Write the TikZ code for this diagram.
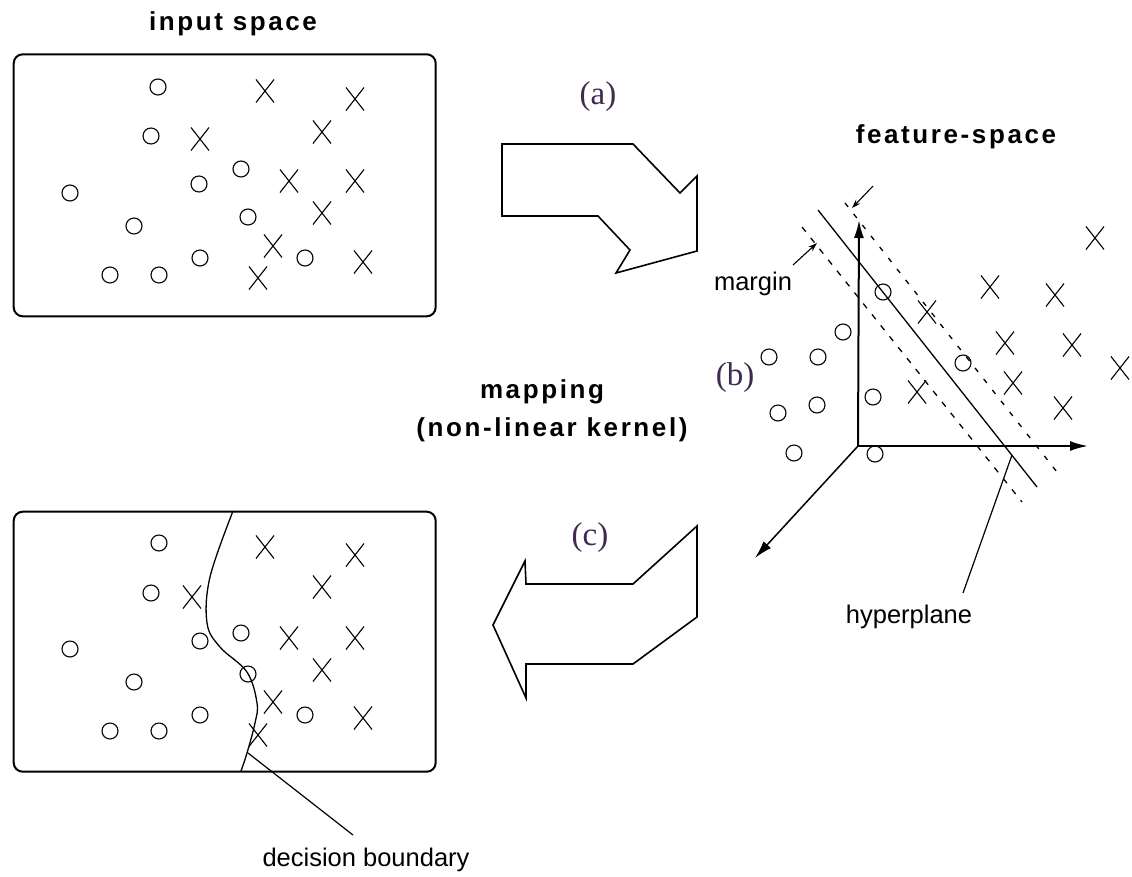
\documentclass[tikz,border=0pt]{standalone}
\usepackage{fontspec}
\setmainfont{Liberation Serif}
\newfontfamily\labelfont{Liberation Sans}
\newfontfamily\titlefont{Liberation Sans}[LetterSpace=10]
\usetikzlibrary{shapes.misc, arrows.meta}
\definecolor{tagcol}{RGB}{62,42,82}

\tikzset{
  omark/.style={circle, draw, line width=1.1pt, minimum size=16pt, inner sep=0pt},
  xmark/.style={cross out, draw, line width=1.1pt, minimum width=17pt, minimum height=22pt, inner sep=0pt},
  panel/.style={draw, line width=2pt, rounded corners=9pt, anchor=north west, inner sep=0pt},
  bigarrow/.style={draw, line width=1.6pt, line join=miter},
  headtext/.style={font=\titlefont\bfseries\fontsize{26}{30}\selectfont, inner sep=0pt},
  parttag/.style={font=\fontsize{33}{36}\selectfont, text=tagcol, inner sep=0pt},
  notetext/.style={font=\labelfont\fontsize{25.5}{28}\selectfont, inner sep=0pt},
  axisline/.style={line width=2pt, -{Latex[length=18pt,width=10pt]}},
  leader/.style={line width=1.2pt},
  hyper/.style={line width=1.3pt},
  marginline/.style={line width=1.3pt, dash pattern=on 6pt off 8pt},
  marginarrow/.style={line width=1.1pt, -{Stealth[length=9pt,width=6pt]}}
}

\begin{document}
\begin{tikzpicture}[x=1pt, y=-1pt]
\useasboundingbox (0,0) rectangle (1132,876);

% ---------- input space ----------
\node[headtext] (intitle) at (233,24) {input space};
\node[panel, minimum width=422pt, minimum height=262pt] (inbox) at (12.7,53.3) {};
\foreach \px/\py [count=\i] in {158/87, 151/136, 199/184, 241/169, 70/193, 134/226,
    248/217, 200/258, 110/275, 159/275, 305/258}
  \node[omark] (ino\i) at (\px,\py) {};
\foreach \px/\py [count=\i] in {265/91, 355/99, 322/132, 200/139, 289/181, 355/181,
    322/213, 273/246, 258/278, 363/262}
  \node[xmark] (inx\i) at (\px,\py) {};

% ---------- mapping arrow (a) ----------
\node[parttag] (taga) at (598,97) {(a)};
\draw[bigarrow] (502,144) -- (633,144) -- (680,193) -- (697,176) -- (697,251)
  -- (616,273) -- (630,250) -- (598,216) -- (502,216) -- cycle;

\node[headtext] (maptitle) at (542,392) {mapping};
\node[headtext] (kerneltitle) at (552,430) {(non-linear kernel)};

% ---------- feature space ----------
\node[headtext] (fstitle) at (956,137) {feature-space};
\node[parttag] (tagb) at (735,378) {(b)};

\coordinate (origin) at (858,446);
\coordinate (yend) at (859,220);
\coordinate (xend) at (1088,446);
\coordinate (zend) at (755,558);
\draw[axisline] (origin) -- (yend);
\draw[axisline] (origin) -- (xend);
\draw[axisline, line width=1.5pt] (origin) -- (zend);

\coordinate (hpA) at (818,210);
\coordinate (hpB) at (1037,487);
\coordinate (mrA) at (845,203);
\coordinate (mrB) at (1057,472);
\coordinate (mlA) at (802,227);
\coordinate (mlB) at (1022,502);
\draw[hyper] (hpA) -- (hpB);
\draw[marginline, dash pattern=on 5pt off 9pt] (mrA) -- (mrB);
\draw[marginline] (mlA) -- (mlB);

\foreach \px/\py [count=\i] in {883/292, 843/332, 769/357, 818/357, 963/363, 873/397,
    778/413, 817/405, 794/453, 875/454}
  \node[omark] (fso\i) at (\px,\py) {};
\foreach \px/\py [count=\i] in {1095/238, 990/287, 1055/295, 927/312, 1005/343, 1072/345,
    1120/368, 917/392, 1013/383, 1063/408}
  \node[xmark] (fsx\i) at (\px,\py) {};

% margin label and its arrows
\node[notetext] (marginlbl) at (753,284) {margin};
\coordinate (mgA) at (793,265);
\coordinate (mgAt) at (817,243);
\coordinate (mgB) at (873,186);
\coordinate (mgBt) at (852,208);
\draw[marginarrow] (mgA) -- (mgAt);
\draw[marginarrow] (mgB) -- (mgBt);

% hyperplane label
\node[notetext] (hyperlbl) at (909,617) {hyperplane};
\coordinate (hpfoot) at (1012,455);
\coordinate (hpend) at (963,593);
\draw[leader] (hpfoot) -- (hpend);

% ---------- mapping arrow (c) ----------
\node[parttag] (tagc) at (590,538) {(c)};
\draw[bigarrow] (697,526) -- (697,617) -- (633,664) -- (526,664) -- (526,698)
  -- (493,625) -- (525,561) -- (526,584) -- (633,584) -- cycle;

% ---------- input space with decision boundary ----------
\node[panel, minimum width=422pt, minimum height=260pt] (outbox) at (12.7,510.7) {};
\foreach \px/\py [count=\i] in {159/543, 151/593, 200/641, 241/633, 70/649, 134/682,
    248/674, 200/715, 110/731, 159/731, 305/715}
  \node[omark] (outo\i) at (\px,\py) {};
\foreach \px/\py [count=\i] in {265/547, 355/555, 322/587, 192/597, 289/638, 355/638,
    322/670, 273/702, 258/735, 363/718}
  \node[xmark] (outx\i) at (\px,\py) {};

\draw[line width=1.3pt] plot[smooth, tension=0.6] coordinates {(233,511) (210,577) (207,623)
  (220,647) (247,672) (257,703) (255,723) (247,753) (241,771)};
\coordinate (dbfoot) at (248,753);
\coordinate (dbend) at (353,835);
\node[notetext] (dblbl) at (366,860) {decision boundary};
\draw[leader] (dbfoot) -- (dbend);
\end{tikzpicture}
\end{document}
